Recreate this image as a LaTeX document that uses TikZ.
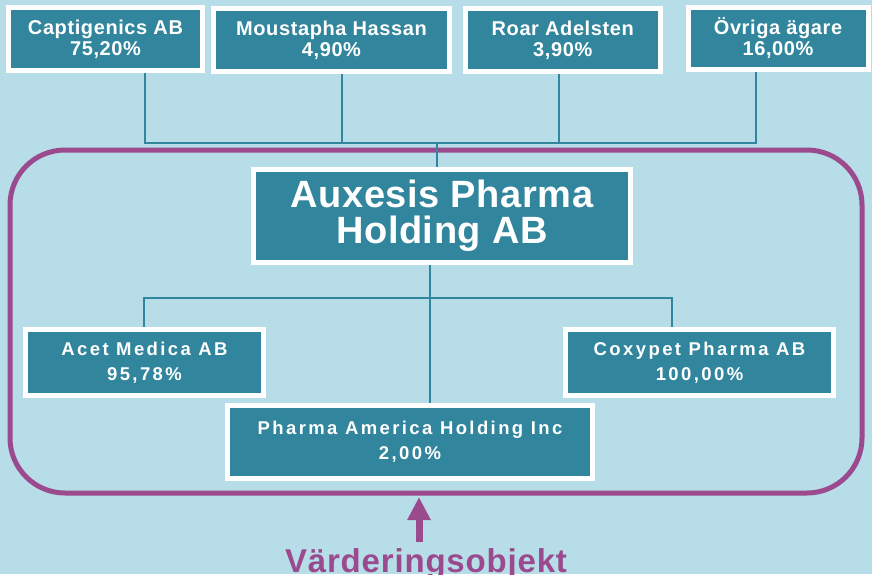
\documentclass[tikz,border=0pt]{standalone}
\usepackage{fontspec}
\setmainfont{Liberation Sans}
\newfontfamily\topfont[LetterSpace=3]{Liberation Sans}
\newfontfamily\subfont[LetterSpace=13]{Liberation Sans}
\newfontfamily\bigfont[LetterSpace=1.5]{Liberation Sans}
\newfontfamily\lblfont[LetterSpace=2.5]{Liberation Sans}
\usetikzlibrary{arrows.meta,backgrounds}
\definecolor{bgblue}{HTML}{B7DEE8}
\definecolor{boxteal}{HTML}{31859C}
\definecolor{framepurple}{HTML}{9A4A8D}
\begin{document}
\begin{tikzpicture}[x=1pt,y=-1pt,
  box/.style={draw=white, line width=5pt, fill=boxteal, text=white, inner sep=0pt, align=center},
  topbox/.style={box, font=\topfont\bfseries\fontsize{20}{21}\selectfont},
  subbox/.style={box, font=\subfont\bfseries\fontsize{18.5}{25}\selectfont},
  bigbox/.style={box, font=\bigfont\bfseries\fontsize{38}{36}\selectfont},
  conn/.style={draw=boxteal, line width=1.5pt},
  frm/.style={draw=framepurple, line width=5pt, rounded corners=55pt, inner sep=0pt}
]
\useasboundingbox (0,0) rectangle (872,574);

% top owners
\node[topbox, minimum width=194, minimum height=63.5] (cap) at (105.5,39) {Captigenics AB\\75,20\%};
\node[topbox, minimum width=236, minimum height=63] (ms) at (331.5,40) {Moustapha Hassan\\4,90\%};
\node[topbox, minimum width=194.5, minimum height=63] (ro) at (562.75,40) {Roar Adelsten\\3,90\%};
\node[topbox, minimum width=180, minimum height=62] (ov) at (778,38.5) {Övriga ägare\\16,00\%};

% main company
\node[bigbox, minimum width=377, minimum height=93] (aux) at (442,216) {Auxesis Pharma\\Holding AB};

% subsidiaries
\node[subbox, minimum width=238, minimum height=66] (aco) at (144.5,362.5) {Acet Medica AB\\95,78\%};
\node[subbox, minimum width=268, minimum height=66] (cox) at (699.5,362.5) {Coxypet Pharma AB\\100,00\%};
\node[subbox, minimum width=365, minimum height=73] (pah) at (410,442) {Pharma America Holding Inc\\2,00\%};

% label
\node[anchor=base, text=framepurple, inner sep=0pt, font=\lblfont\bfseries\fontsize{33}{36}\selectfont] (lbl) at (426,572) {Värderingsobjekt};

\coordinate (j1) at (145,143);
\coordinate (j2) at (342,143);
\coordinate (j3) at (559,143);
\coordinate (j4) at (756,143);
\coordinate (jm) at (437,143);
\coordinate (k1) at (144,298);
\coordinate (k2) at (672,298);
\coordinate (km) at (430,298);
\coordinate (ab) at (419,542);
\coordinate (at) at (419,497);

\begin{scope}[on background layer]
  \fill[bgblue] (0,0) rectangle (872,574);
  \node[frm, minimum width=852, minimum height=343] (fr) at (436,321.5) {};
  \draw[conn] (cap.south -| j1) -- (j1) -- (j4) -- (ov.south -| j4);
  \draw[conn] (ms.south -| j2) -- (j2);
  \draw[conn] (ro.south -| j3) -- (j3);
  \draw[conn] (jm) -- (aux.north -| jm);
  \draw[conn] (aco.north -| k1) -- (k1) -- (k2) -- (cox.north -| k2);
  \draw[conn] (aux.south -| km) -- (pah.north -| km);
\end{scope}

\draw[draw=framepurple, line width=7pt, -{Triangle[width=22pt,length=23pt]}] (ab) -- (at);
\end{tikzpicture}
\end{document}
